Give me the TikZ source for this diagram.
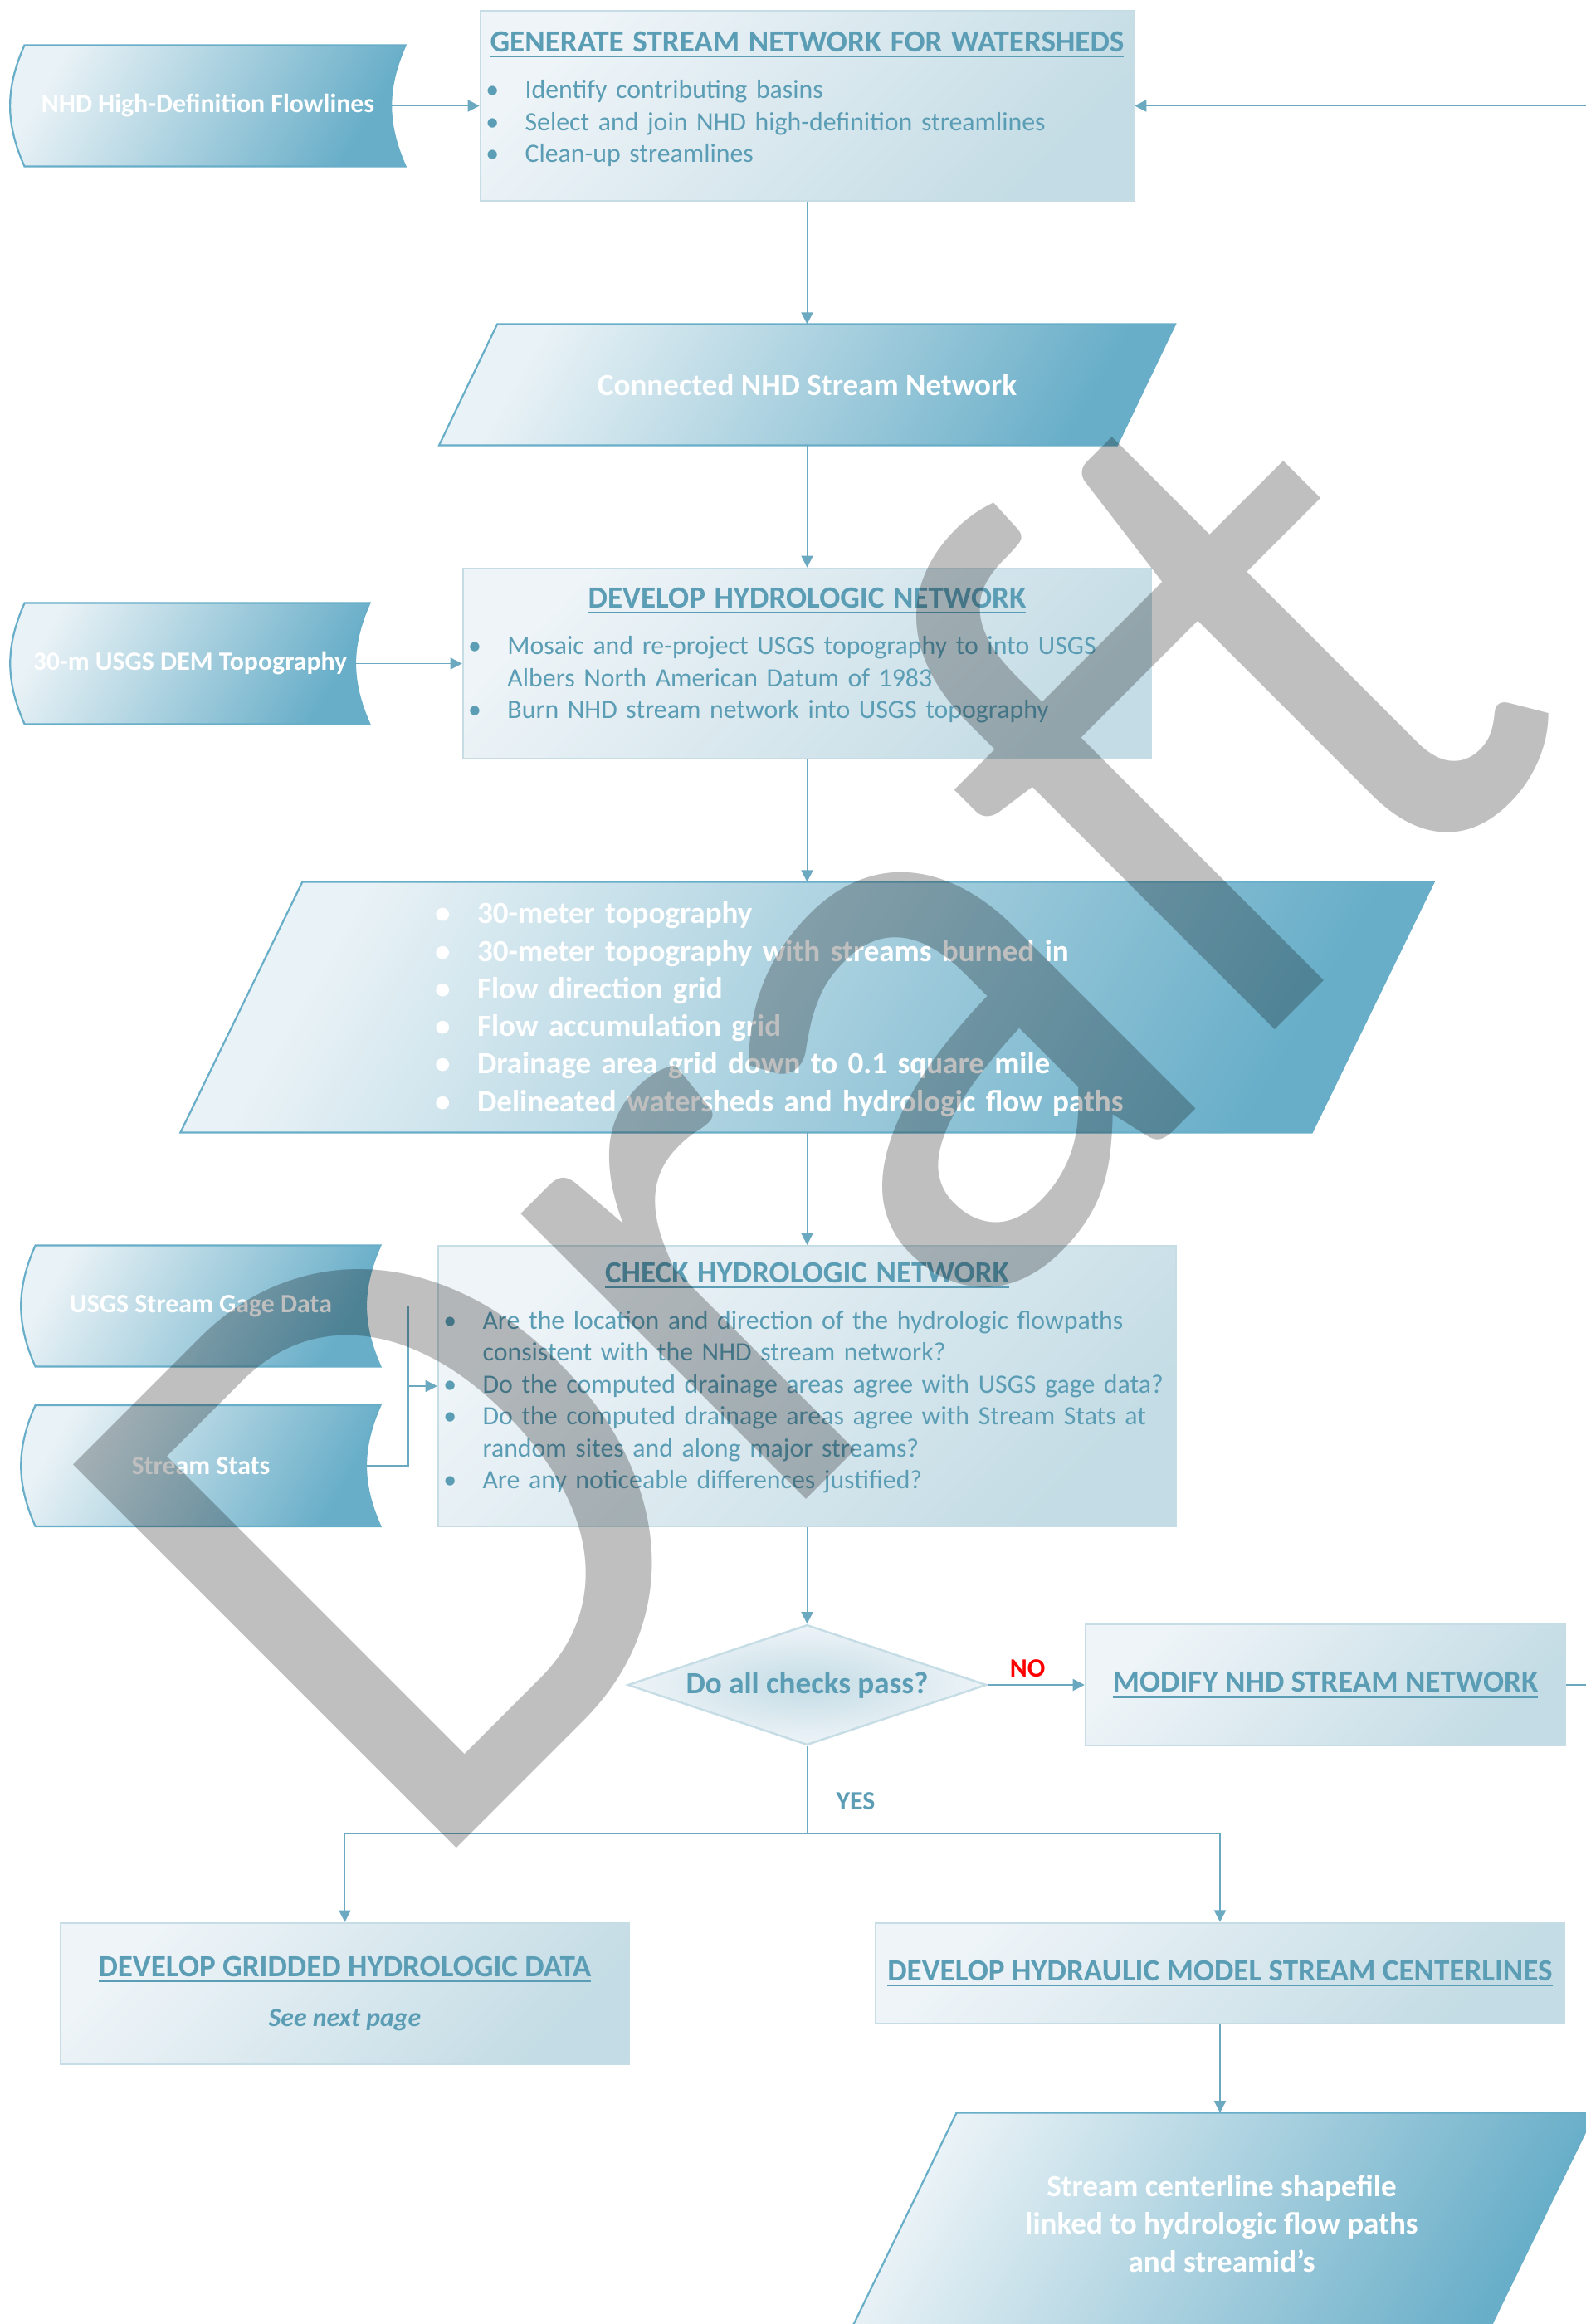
\documentclass[tikz,border=0pt]{standalone}
\usepackage{fontspec}
\setmainfont{Carlito}
\usepackage{enumitem}
\usetikzlibrary{arrows.meta,shapes.geometric,backgrounds}

\definecolor{ink}{HTML}{5B9DB4}
\definecolor{wire}{HTML}{6AA9C0}
\definecolor{rim}{HTML}{C6DDE6}
\definecolor{paleblue}{HTML}{EEF4F8}
\definecolor{mistblue}{HTML}{C4DCE5}
\definecolor{deepblue}{HTML}{68AEC8}
\definecolor{iceblue}{HTML}{E9F2F6}

\setlist[itemize]{label=\textbullet, align=left, labelsep=0pt, itemsep=0pt,
  parsep=0pt, topsep=0pt, partopsep=0pt}

% underlined heading of a process box
\newcommand{\steptitle}[1]{{\fontsize{13.4}{16}\selectfont\bfseries
  \setbox0\hbox{#1}\rlap{\rule[-2.4pt]{\wd0}{0.9pt}}\box0}}

\begin{document}
\begin{tikzpicture}[x=1.27mm, y=-1.27mm,
  every node/.style={font=\fontsize{11.5}{13.9}\selectfont, text=ink},
  stepbox/.style={draw=rim, line width=0.9pt, top color=paleblue, bottom color=mistblue,
    shading angle=45, inner xsep=0.8mm, inner ysep=0pt, align=left},
  inputtape/.style={font=\fontsize{11.5}{13.9}\selectfont\bfseries, text=white,
    minimum width=50.5mm, minimum height=18.4mm, inner sep=0pt},
  datum/.style={font=\fontsize{13.4}{16.35}\selectfont\bfseries, text=white, inner sep=0pt},
  datafill/.style={draw=deepblue, line width=0.8pt, top color=iceblue, bottom color=deepblue,
    shading angle=60},
  choice/.style={diamond, aspect=3, draw=rim, line width=0.9pt, inner color=mistblue,
    outer color=paleblue, minimum width=54.9mm, minimum height=18.4mm, inner sep=0pt,
    font=\fontsize{13.4}{16}\selectfont\bfseries},
  verdict/.style={font=\fontsize{11.5}{14}\selectfont\bfseries},
  arrowline/.style={draw=wire, line width=0.6pt, -{Triangle[length=1.8mm,width=1.8mm]}},
  plainline/.style={draw=wire, line width=0.6pt},
  watermark/.style={font=\fontsize{352}{352}\selectfont, text=black, text opacity=0.25,
    rotate=45, yscale=1.045, anchor=base west, inner sep=0pt}]
  \useasboundingbox (0,0) rectangle (191.1,280);

  % inputs
  \node[inputtape, minimum width=56mm] (nhd) at (25.05,12.75) {NHD High-Definition Flowlines};
  \node[inputtape] (dem) at (22.9,79.95) {30-m USGS DEM Topography};
  \node[inputtape] (gage) at (24.2,157.35) {USGS Stream Gage Data};
  \node[inputtape] (stats) at (24.2,176.6) {Stream Stats};
  \coordinate (join) at (49.2,167.0);

  % main column
  \node[stepbox, minimum width=99.95mm, minimum height=29.08mm, text width=98.35mm] (gen)
    at (97.25,12.75) {{\centering\steptitle{GENERATE STREAM NETWORK FOR WATERSHEDS}\par}
    \vspace{6.3pt}
    \begin{itemize}[leftmargin=6mm, labelwidth=6mm]
      \item Identify contributing basins
      \item Select and join NHD high-definition streamlines
      \item Clean-up streamlines
    \end{itemize}\vspace*{2mm}};
  \node[datum, minimum width=103.6mm, minimum height=18.4mm] (conn) at (97.25,46.35)
    {Connected NHD Stream Network};
  \node[stepbox, minimum width=105.3mm, minimum height=29.08mm, text width=103.7mm] (hydro)
    at (97.25,79.95) {{\centering\steptitle{DEVELOP HYDROLOGIC NETWORK}\par}
    \vspace{6.3pt}
    \begin{itemize}[leftmargin=6mm, labelwidth=6mm]
      \item Mosaic and re-project USGS topography to into USGS\newline
        Albers North American Datum of 1983
      \item Burn NHD stream network into USGS topography
    \end{itemize}\vspace*{2.5mm}};
  \node[datum, minimum width=173mm, minimum height=38.2mm, text width=113.9mm] (grids)
    at (97.25,121.35) {\begin{itemize}[leftmargin=6.48mm, labelwidth=6.48mm]
      \item 30-meter topography
      \item 30-meter topography with streams burned in
      \item Flow direction grid
      \item Flow accumulation grid
      \item Drainage area grid down to 0.1 square mile
      \item Delineated watersheds and hydrologic flow paths
    \end{itemize}\vspace*{1.8mm}};
  \node[stepbox, minimum width=112.9mm, minimum height=42.9mm, text width=111.3mm] (check)
    at (97.25,167.0) {{\centering\steptitle{CHECK HYDROLOGIC NETWORK}\par}
    \vspace{6.3pt}
    \begin{itemize}[leftmargin=6mm, labelwidth=6mm]
      \item Are the location and direction of the hydrologic flowpaths\newline
        consistent with the NHD stream network?
      \item Do the computed drainage areas agree with USGS gage data?
      \item Do the computed drainage areas agree with Stream Stats at\newline
        random sites and along major streams?
      \item Are any noticeable differences justified?
    \end{itemize}\vspace*{2.5mm}};
  \node[choice] (pass) at (97.25,203.0) {Do all checks pass?};
  \node[stepbox, minimum width=73.4mm, minimum height=18.5mm, align=center] (modify)
    at (159.7,203.0) {\steptitle{MODIFY NHD STREAM NETWORK}};
  \node[verdict, text=red] (no) at (123.8,201.0) {NO};
  \node[verdict] (yes) at (103.1,217.0) {YES};
  \coordinate (split) at (97.25,220.9);

  % outputs
  \node[stepbox, minimum width=87mm, minimum height=21.6mm, align=center] (grid)
    at (41.55,240.2) {\steptitle{DEVELOP GRIDDED HYDROLOGIC DATA}\\[7.7pt]
    \textbf{\textit{See next page}}};
  \node[stepbox, minimum width=105.4mm, minimum height=15.4mm, align=center] (centre)
    at (147.0,237.75) {\steptitle{DEVELOP HYDRAULIC MODEL STREAM CENTERLINES}};
  \node[datum, minimum width=97.5mm, minimum height=33.8mm, align=center] (final)
    at (147.2,267.9) {Stream centerline shapefile\\linked to hydrologic flow paths\\and streamid’s};

  % outlines of the data shapes
  \begin{scope}[on background layer]
    \shadedraw[datafill] (nhd.north west) -- ([xshift=2.16mm]nhd.north east)
      to[bend right=24] ([xshift=2.16mm]nhd.south east) -- (nhd.south west)
      to[bend left=24] (nhd.north west) -- cycle;
    \shadedraw[datafill] (dem.north west) -- ([xshift=2.16mm]dem.north east)
      to[bend right=24] ([xshift=2.16mm]dem.south east) -- (dem.south west)
      to[bend left=24] (dem.north west) -- cycle;
    \shadedraw[datafill] (gage.north west) -- ([xshift=2.16mm]gage.north east)
      to[bend right=24] ([xshift=2.16mm]gage.south east) -- (gage.south west)
      to[bend left=24] (gage.north west) -- cycle;
    \shadedraw[datafill] (stats.north west) -- ([xshift=2.16mm]stats.north east)
      to[bend right=24] ([xshift=2.16mm]stats.south east) -- (stats.south west)
      to[bend left=24] (stats.north west) -- cycle;
    \shadedraw[datafill] ([xshift=4.45mm]conn.north west) -- ([xshift=4.45mm]conn.north east)
      -- ([xshift=-4.45mm]conn.south east) -- ([xshift=-4.45mm]conn.south west) -- cycle;
    \shadedraw[datafill] ([xshift=9.33mm]grids.north west) -- ([xshift=9.33mm]grids.north east)
      -- ([xshift=-9.33mm]grids.south east) -- ([xshift=-9.33mm]grids.south west) -- cycle;
    \shadedraw[datafill] ([xshift=8.26mm]final.north west) -- ([xshift=8.26mm]final.north east)
      -- ([xshift=-8.26mm]final.south east) -- ([xshift=-8.26mm]final.south west) -- cycle;
  \end{scope}

  % connectors
  \draw[arrowline] (nhd.east) -- (gen.west);
  \draw[arrowline] (gen.south) -- (conn.north);
  \draw[arrowline] (conn.south) -- (hydro.north);
  \draw[arrowline] (dem.east) -- (hydro.west);
  \draw[arrowline] (hydro.south) -- (grids.north);
  \draw[arrowline] (grids.south) -- (check.north);
  \draw[arrowline] (gage.east) -| (join) -- (check.west);
  \draw[plainline] (stats.east) -| (join);
  \draw[arrowline] (check.south) -- (pass.north);
  \draw[arrowline] (pass.east) -- (modify.west);
  \draw[arrowline] (modify.east) -- ++(3,0) |- (gen.east);
  \draw[arrowline] (pass.south) -- (split) -| (grid.north);
  \draw[arrowline] (split) -| (centre.north);
  \draw[arrowline] (centre.south) -- (centre.south |- final.north);

  \node[watermark] (draft) at (50.3,227.4) {Draft};
\end{tikzpicture}
\end{document}
